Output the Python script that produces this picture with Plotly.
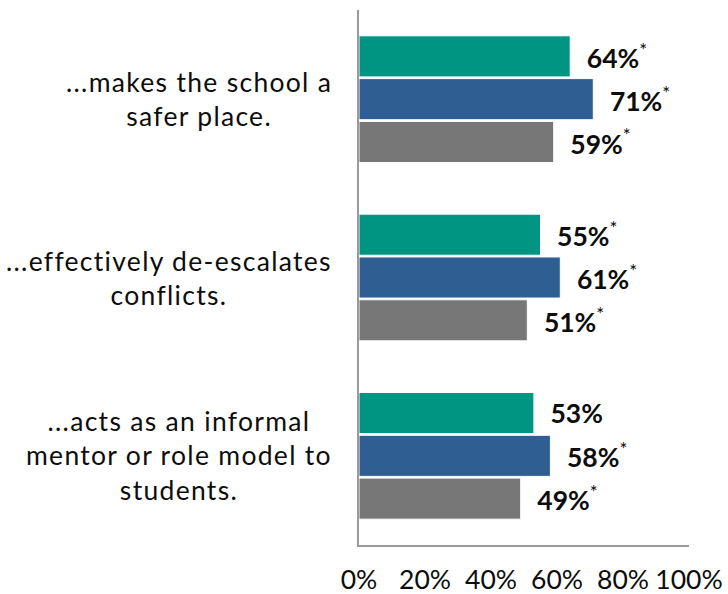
import plotly.graph_objects as go

# Statements (top to bottom) and the three respondent groups
categories = [
    "...makes the school a<br>safer place.",
    "...effectively de-escalates<br>conflicts.",
    "...acts as an informal<br>mentor or role model to<br>students.",
]
series_names = ["Group A", "Group B", "Group C"]
series_values = [
    [64, 55, 53],
    [71, 61, 58],
    [59, 51, 49],
]
series_sig = [
    [True, True, False],
    [True, True, True],
    [True, True, True],
]
series_colors = ["#009482", "#2F5E93", "#777777"]
x_ticks = [0, 20, 40, 60, 80, 100]
x_tick_labels = ["0%", "20%", "40%", "60%", "80%", "100%"]

FONT = "Lato, 'Open Sans', sans-serif"
TEXT_COLOR = "#0d0d0d"
PAD = "\u00a0" * 2

fig = go.Figure()
for name, vals, sig, color in zip(series_names, series_values, series_sig, series_colors):
    labels = [
        f"{PAD}<b>{v}%</b>" + ("<sup>*</sup>" if s else "")
        for v, s in zip(vals, sig)
    ]
    fig.add_trace(go.Bar(
        name=name,
        y=categories,
        x=vals,
        orientation="h",
        marker=dict(color=color, line=dict(color="white", width=1)),
        text=labels,
        textposition="outside",
        constraintext="none",
        cliponaxis=False,
        textfont=dict(family=FONT, size=26.5, color=TEXT_COLOR),
        hoverinfo="skip",
    ))

# Category labels, centred line by line to the left of the axis
for cat in categories:
    lines = cat.split("<br>")
    styled = "<br>".join(
        f'<span style="letter-spacing:1.3px">{ln}</span>' for ln in lines
    )
    fig.add_annotation(
        x=0, xref="paper", xanchor="right", xshift=-25,
        y=cat, yref="y", yanchor="middle",
        text=styled, showarrow=False, align="center",
        font=dict(family=FONT, size=26.5, color=TEXT_COLOR),
    )

fig.update_layout(
    width=728, height=594,
    margin=dict(l=359, r=39, t=10, b=49, autoexpand=False),
    paper_bgcolor="white", plot_bgcolor="white",
    barmode="group", bargap=0.28, bargroupgap=0.04,
    showlegend=False,
    font=dict(family=FONT, size=26.5, color=TEXT_COLOR),
)
fig.update_xaxes(
    range=[0, 100], tickvals=x_ticks, ticktext=x_tick_labels,
    showgrid=False, zeroline=False, ticks="",
    showline=True, linecolor="#9a9a9a", linewidth=2,
    automargin=False, ticklabelstandoff=10,
    tickfont=dict(family=FONT, size=26.5, color=TEXT_COLOR),
)
fig.update_yaxes(
    autorange="reversed", showticklabels=False, ticks="",
    showgrid=False, zeroline=False, automargin=False,
    showline=True, linecolor="#9a9a9a", linewidth=2,
)

fig.write_html("out.html")
